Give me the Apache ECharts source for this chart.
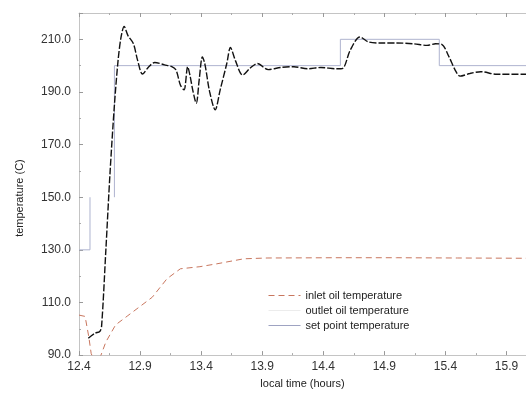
<!DOCTYPE html>
<html>
<head>
<meta charset="utf-8">
<script src="https://cdn.jsdelivr.net/npm/echarts@6/dist/echarts.min.js"></script>
<style>
  html, body { margin: 0; padding: 0; background: #fff; }
  #main { width: 526px; height: 394px; }
</style>
</head>
<body>
<div id="main"></div>
<script>
// values
const xTicks = [12.4, 12.9, 13.4, 13.9, 14.4, 14.9, 15.4, 15.9];
const yTicks = [90, 110, 130, 150, 170, 190, 210];

const inletTime = [12.4, 12.45, 12.48, 12.5, 12.54, 12.58, 12.62, 12.7, 12.8, 12.9, 13.0, 13.12, 13.23, 13.39, 13.53, 13.75, 13.94, 14.5, 15.0, 15.5, 16.06];
const inletTemp = [105.2, 104.7, 97, 90.5, 87, 90, 95, 101.5, 105, 108.5, 112, 119, 122.8, 123.6, 124.7, 126.6, 126.9, 127, 127, 126.9, 126.8];

const outletTime = [12.476, 12.53, 12.57, 12.585, 12.62, 12.655, 12.69, 12.72, 12.745, 12.77, 12.8, 12.845, 12.88, 12.92, 12.97, 13.02, 13.1, 13.16, 13.195, 13.23, 13.26, 13.29, 13.31, 13.33, 13.36, 13.385, 13.41, 13.43, 13.47, 13.515, 13.556, 13.61, 13.64, 13.68, 13.74, 13.8, 13.86, 13.95, 14.05, 14.16, 14.27, 14.38, 14.51, 14.56, 14.62, 14.7, 14.77, 14.87, 15.0, 15.14, 15.25, 15.32, 15.37, 15.43, 15.48, 15.52, 15.6, 15.69, 15.82, 16.06];
const outletTemp = [96.4, 98.3, 99, 101, 130, 160, 185, 202, 211, 214.9, 211.5, 208.4, 202, 196.8, 199.5, 201.2, 200.3, 199.6, 198.3, 192.6, 190.8, 199.6, 196, 191, 185.7, 195, 203.3, 200.8, 190, 183.2, 190.8, 200.8, 206.9, 202, 196.4, 199, 200.8, 198.5, 199.3, 199.6, 198.8, 199.3, 198.8, 199, 205.8, 210.9, 209, 208.6, 208.6, 208.3, 207.7, 208.3, 208.1, 203.3, 198.3, 196, 197, 197.7, 196.7, 196.7];

const setTime = [12.4, 12.49, 12.49, 12.59, 12.69, 12.69, 14.54, 14.54, 15.35, 15.35, 16.06];
const setTemp = [130, 130, 150, null, 150, 200, 200, 210, 210, 200, 200];

const zip = (xs, ys) => xs.map((x, i) => [x, ys[i]]);

const chart = echarts.init(document.getElementById("main"));
const font = "Liberation Sans, Arial, sans-serif";
const axisGrey = "#c4c4c4";

const option = {
  animation: false,
  textStyle: { fontFamily: font },
  grid: { left: 79, right: 0, top: 13, bottom: 37 },
  legend: {
    orient: "vertical",
    left: 263,
    top: 285,
    itemWidth: 32,
    itemHeight: 12,
    itemGap: 4,
    itemStyle: { opacity: 0 },
    textStyle: { fontSize: 11, color: "#222", fontFamily: font },
    data: [
      { name: "inlet oil temperature", lineStyle: { color: "#c8765e", type: [6, 4], width: 1 } },
      { name: "outlet oil temperature", lineStyle: { color: "#ececec", type: "solid", width: 1 } },
      { name: "set point temperature", lineStyle: { color: "#9ea3c2", type: "solid", width: 1 } },
    ],
  },
  xAxis: [
    {
      type: "value",
      min: 12.4,
      max: 16.06,
      interval: 0.5,
      name: "local time (hours)",
      nameLocation: "middle",
      nameGap: 19,
      nameTextStyle: { fontSize: 11, color: "#222" },
      axisLine: { lineStyle: { color: axisGrey } },
      axisTick: { inside: true, length: 4, lineStyle: { color: "#999" } },
      minorTick: { show: true, splitNumber: 2, length: 2, lineStyle: { color: "#aaa" } },
      splitLine: { show: false },
      axisLabel: {
        margin: 6,
        fontSize: 12,
        color: "#333",
        showMaxLabel: false,
        formatter: (v) => (xTicks.some((t) => Math.abs(t - v) < 1e-6) ? v.toFixed(1) : ""),
      },
    },
    {
      type: "value",
      position: "top",
      min: 12.4,
      max: 16.06,
      interval: 0.5,
      axisLine: { lineStyle: { color: axisGrey } },
      axisTick: { inside: true, length: 4, lineStyle: { color: "#999" } },
      minorTick: { show: true, splitNumber: 2, length: 2, lineStyle: { color: "#aaa" } },
      splitLine: { show: false },
      axisLabel: { show: false },
    },
  ],
  yAxis: {
    type: "value",
    min: 90,
    max: 220,
    interval: 20,
    name: "temperature (C)",
    nameLocation: "middle",
    nameGap: 54,
    nameTextStyle: { fontSize: 11, color: "#222", padding: [0, 28, 0, 0] },
    axisLine: { show: true, lineStyle: { color: axisGrey } },
    axisTick: { show: true, inside: true, length: 4, lineStyle: { color: "#999" } },
    minorTick: { show: true, splitNumber: 2, length: 2, lineStyle: { color: "#aaa" } },
    splitLine: { show: false },
    axisLabel: {
      margin: 8,
      fontSize: 12,
      color: "#333",
      showMaxLabel: false,
      formatter: (v) => (yTicks.includes(v) ? v.toFixed(1) : ""),
    },
  },
  series: [
    {
      name: "inlet oil temperature",
      type: "line",
      symbol: "none",
      data: zip(inletTime, inletTemp),
      lineStyle: { color: "#c8765e", width: 1, type: [6, 4] },
      itemStyle: { color: "#c8765e" },
      z: 2,
    },
    {
      name: "outlet oil temperature",
      type: "line",
      symbol: "none",
      smooth: 0.3,
      data: zip(outletTime, outletTemp),
      lineStyle: { color: "#111", width: 1.4, type: [7, 2] },
      itemStyle: { color: "#111" },
      z: 3,
    },
    {
      name: "set point temperature",
      type: "line",
      symbol: "none",
      data: zip(setTime, setTemp),
      lineStyle: { color: "#aeb3cf", width: 1 },
      itemStyle: { color: "#aeb3cf" },
      z: 1,
    },
  ],
};

chart.setOption(option);
</script>
</body>
</html>
